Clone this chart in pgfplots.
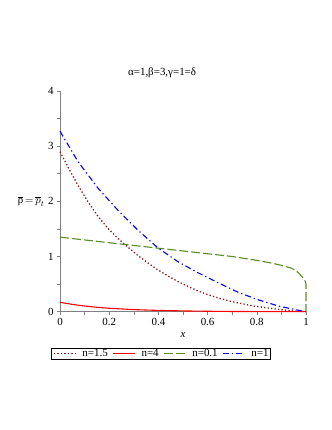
\documentclass[border=0pt]{standalone}
\usepackage{fontspec}
\setmainfont{Liberation Serif}
\usepackage{pgfplots}
\pgfplotsset{compat=1.18}

\definecolor{mapleMaroon}{HTML}{8B1A1A}
\definecolor{mapleRed}{HTML}{FF0000}
\definecolor{mapleGreen}{HTML}{5A8C23}
\definecolor{mapleBlue}{HTML}{0000FF}
\newcommand{\plotfont}{\fontsize{11}{12}\selectfont}
% line sample set inside the legend text
\newcommand{\legline}[2]{\tikz[baseline=-0.6ex]\draw[#1,#2] (0bp,0bp) -- (22bp,0bp);\hspace{6bp}}

\begin{document}
\begin{tikzpicture}
\useasboundingbox (0,0) rectangle (332bp,430bp);
\begin{axis}[
  at={(60bp,118.3bp)}, anchor=south west,
  scale only axis, width=246bp, height=220.8bp,
  xmin=0, xmax=1, ymin=0, ymax=4,
  clip=false,
  axis x line*=bottom, axis y line*=left,
  axis line style={gray, line width=0.8bp},
  xtick={0,0.2,0.4,0.6,0.8,1},
  minor xtick={0.1,0.3,0.5,0.7,0.9},
  ytick={0,1,2,3,4},
  minor ytick={0.5,1.5,2.5,3.5},
  tick align=outside,
  major tick length=3bp, minor tick length=3bp,
  tick style={gray, line width=0.5bp},
  tick label style={font=\plotfont},
  /pgf/number format/assume math mode=true,
  every axis title/.style={at={(axis description cs:0.415,1)}, anchor=base, yshift=15bp, font=\plotfont},
  title={α=1,β=3,γ=1=δ},
  every axis x label/.style={at={(axis description cs:0.5,0)}, anchor=center, yshift=-23bp, font=\plotfont},
  xlabel={\textit{x}},
  every axis y label/.style={at={(axis description cs:0,0.5)}, anchor=east, xshift=-12bp, font=\plotfont},
  ylabel={$\overline{\hbox{ρ}}\,{=}\,\overline{p}_t$},
  legend columns=4,
  legend image code/.code={},
  legend style={at={(axis description cs:0.41,-0.189)}, anchor=center, font=\plotfont,
    inner xsep=1bp, inner ysep=0.5bp,
    nodes={inner sep=0.8bp},
    /tikz/every odd column/.append style={column sep=0bp},
    /tikz/every even column/.append style={column sep=3bp}},
]
\addplot[color=mapleMaroon, line width=1.3bp, dash pattern=on 1.3bp off 2.2bp] coordinates {
  (0,2.90) (0.036,2.59) (0.073,2.29) (0.114,1.99) (0.154,1.73) (0.195,1.51)
  (0.235,1.33) (0.276,1.17) (0.316,1.02) (0.357,0.885) (0.397,0.76) (0.438,0.65)
  (0.478,0.55) (0.519,0.46) (0.559,0.38) (0.6,0.31) (0.65,0.24) (0.7,0.18)
  (0.79,0.10) (0.9,0.036) (0.95,0.012) (1,0)
};
\addlegendentry{\legline{mapleMaroon}{line width=1.3bp, dash pattern=on 1.3bp off 2.2bp}n=1.5}
\addplot[color=mapleRed, line width=1.1bp] coordinates {
  (0,0.17) (0.05,0.132) (0.1,0.103) (0.15,0.080) (0.2,0.062) (0.3,0.038)
  (0.4,0.023) (0.5,0.014) (0.6,0.008) (0.7,0.004) (0.8,0.002) (0.9,0.0005) (1,0)
};
\addlegendentry{\legline{mapleRed}{line width=1.1bp}n=4}
\addplot[color=mapleGreen, line width=1.1bp, dash pattern=on 9bp off 3bp] coordinates {
  (0,1.35) (0.1,1.30) (0.2,1.25) (0.3,1.20) (0.4,1.15) (0.5,1.10) (0.6,1.05)
  (0.7,1.00) (0.8,0.93) (0.85,0.89) (0.9,0.84) (0.94,0.79) (0.96,0.74)
  (0.975,0.68) (0.988,0.61) (0.997,0.55) (1,0.50) (1,0)
};
\addlegendentry{\legline{mapleGreen}{line width=1.1bp, dash pattern=on 9bp off 3bp}n=0.1}
\addplot[color=mapleBlue, line width=1.1bp, dash pattern=on 6bp off 3bp on 1.3bp off 3bp] coordinates {
  (0,3.27) (0.073,2.72) (0.154,2.24) (0.235,1.84) (0.316,1.48) (0.397,1.16)
  (0.478,0.91) (0.559,0.71) (0.64,0.53) (0.73,0.34) (0.81,0.21) (0.89,0.10)
  (0.97,0.025) (1,0)
};
\addlegendentry{\legline{mapleBlue}{line width=1.1bp, dash pattern=on 6bp off 3bp on 1.3bp off 3bp}n=1}
\end{axis}
\end{tikzpicture}
\end{document}
